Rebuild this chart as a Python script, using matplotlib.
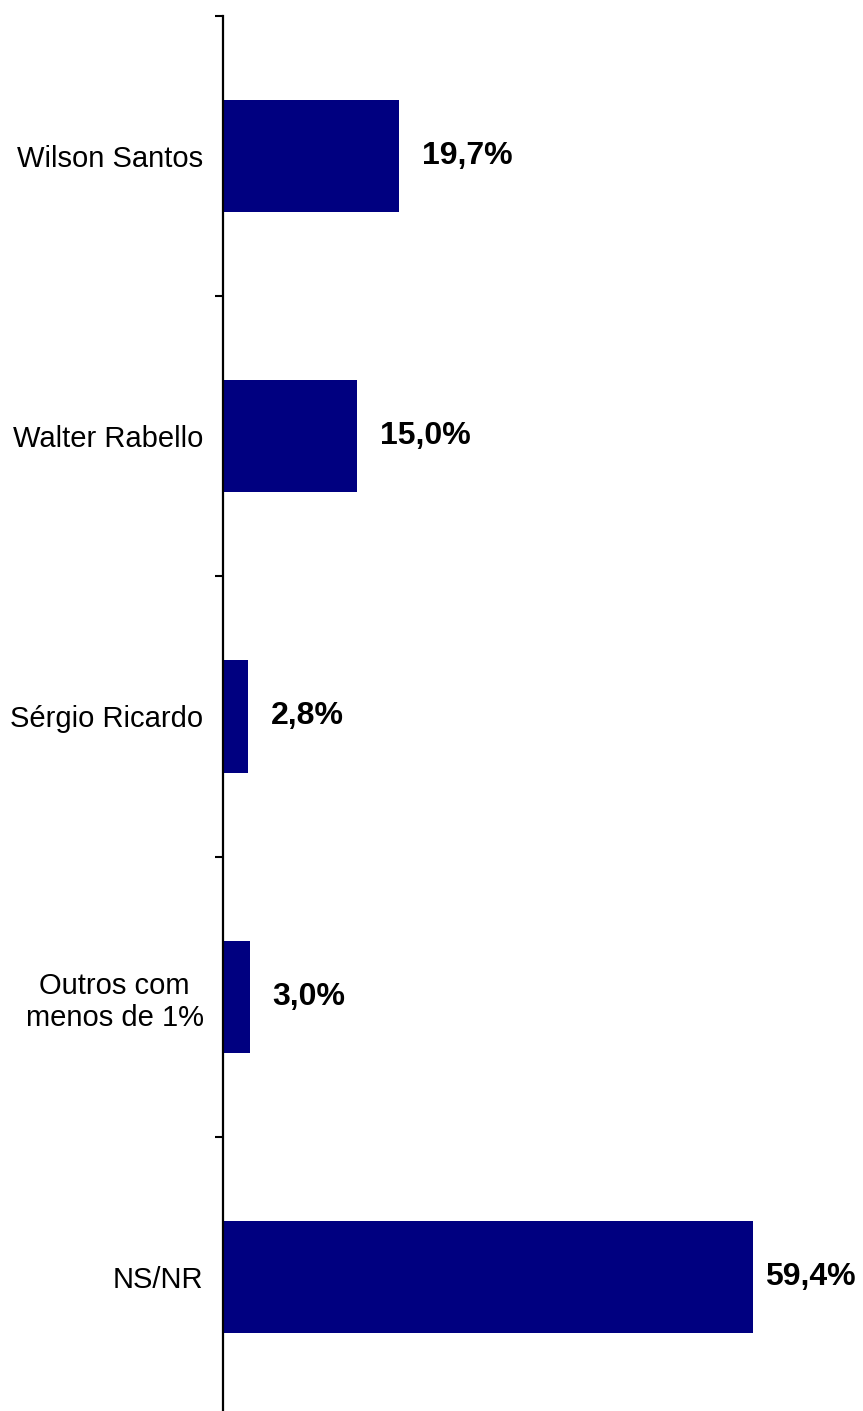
import matplotlib.pyplot as plt
import numpy as np

categories = ['Wilson Santos', 'Walter Rabello', 'Sérgio Ricardo',
              'Outros com\nmenos de 1%', 'NS/NR']
values = [19.7, 15.0, 2.8, 3.0, 59.4]
value_labels = ['19,7%', '15,0%', '2,8%', '3,0%', '59,4%']

plt.rcParams['font.family'] = ['Liberation Sans', 'DejaVu Sans']

fig = plt.figure(figsize=(8.63, 14.11), dpi=100)
# axes spans from the top tick down past the bottom edge of the figure
ax = fig.add_axes([223 / 863, 1 - 1417 / 1411, 1 - 223 / 863, (1417 - 16) / 1411])

y = np.arange(len(categories))
ax.barh(y, values, height=0.4, color='#000080', zorder=2)

for yi, v, lab in zip(y, values, value_labels):
    # longest bar: label pulled in so it stays inside the figure
    gap = 8 if v == max(values) else 16.5
    ax.annotate(lab, xy=(v, yi), xytext=(gap, 0), textcoords='offset points',
                ha='left', va='center', fontsize=23, fontweight='bold')

ax.set_xlim(0, (863 - 223) / 8.93)
ax.set_ylim(len(categories) - 0.5, -0.5)

for s in ['top', 'right', 'bottom']:
    ax.spines[s].set_visible(False)
ax.spines['left'].set_linewidth(1.6)
ax.set_xticks([])

# boundary ticks (major) without labels, category labels on minor ticks
ax.set_yticks(np.arange(-0.5, len(categories) + 0.5, 1))
ax.set_yticklabels([])
ax.tick_params(axis='y', which='major', direction='out', length=6, width=1.5)
ax.set_yticks(y, minor=True)
ax.set_yticklabels(categories, minor=True, fontsize=21, multialignment='center')
ax.tick_params(axis='y', which='minor', length=0, pad=14)

plt.savefig('out.png', dpi=100)
plt.close()
